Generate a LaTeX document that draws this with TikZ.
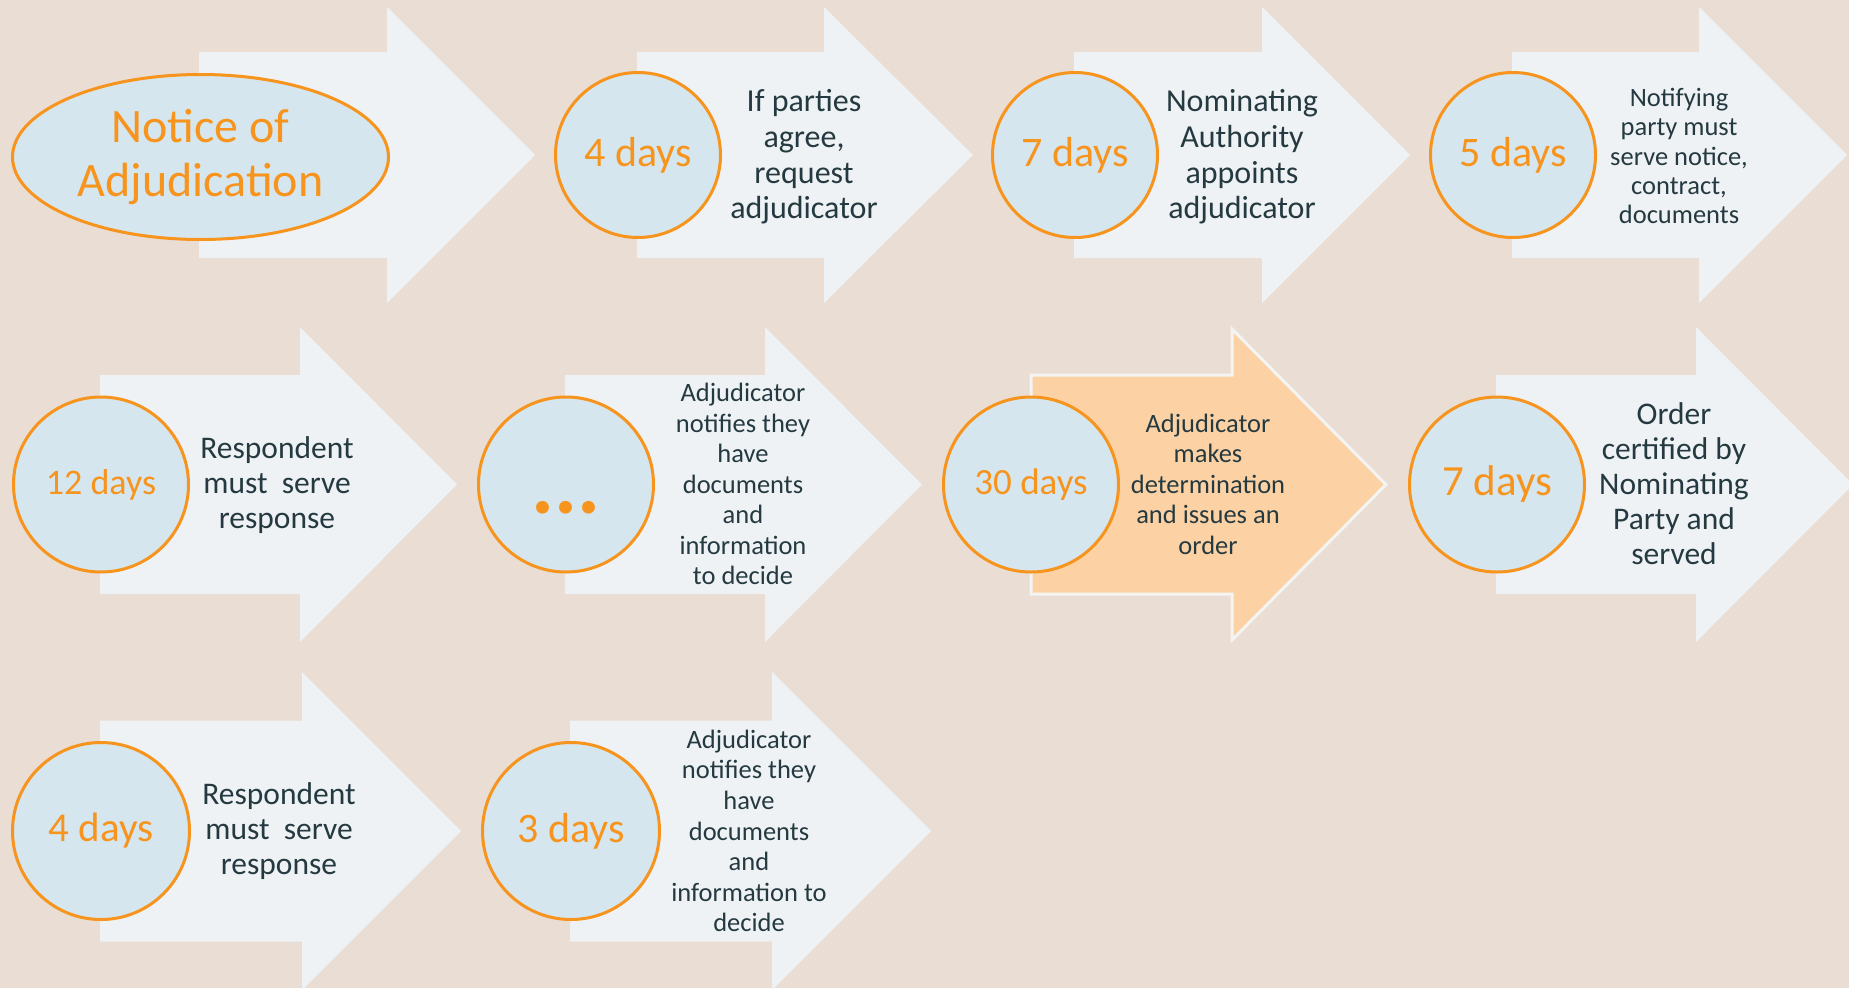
\documentclass[tikz,border=0pt]{standalone}
\usepackage{fontspec}
\setmainfont{Carlito}
\usetikzlibrary{shapes.geometric}
\definecolor{bg}{HTML}{E9DDD4}
\definecolor{arrowfill}{HTML}{EEF2F5}
\definecolor{circfill}{HTML}{D6E6EE}
\definecolor{orangeline}{HTML}{F7941D}
\definecolor{textdark}{HTML}{253A40}
\definecolor{hlfill}{HTML}{FCD2A5}
\definecolor{hlline}{HTML}{F4F4F2}
\tikzset{
  stagearrow/.style={fill=arrowfill, draw=none},
  hlarrow/.style={fill=hlfill, draw=hlline, line width=3pt, line join=miter},
  daycircle/.style={circle, fill=circfill, draw=orangeline, line width=3pt, inner sep=0pt, text=orangeline},
  desc/.style={align=center, text=textdark, inner sep=0pt},
}
\newcommand\drawflowarrow[7]{%
  \path[#1] (#2,#5-#6) -- (#3,#5-#6) -- (#3,#5-#7) -- (#4,#5) -- (#3,#5+#7) -- (#3,#5+#6) -- (#2,#5+#6) -- cycle;}
\begin{document}
\begin{tikzpicture}[x=1pt,y=-1pt]
\useasboundingbox (0,0) rectangle (1849,988);
\clip (0,0) rectangle (1849,988);
\fill[bg] (0,0) rectangle (1849,988);

% Row 1 arrows
\drawflowarrow{stagearrow}{199}{387}{535}{155}{103}{148}
\drawflowarrow{stagearrow}{637}{824}{973}{155}{103}{148}
\drawflowarrow{stagearrow}{1074}{1262}{1410}{155}{103}{148}
\drawflowarrow{stagearrow}{1512}{1699}{1847}{155}{103}{148}
% Row 2 arrows
\drawflowarrow{stagearrow}{100}{300}{457}{484.5}{109.5}{157.5}
\drawflowarrow{stagearrow}{565}{765}{922}{484.5}{109.5}{157.5}
\drawflowarrow{hlarrow}{1031}{1232}{1386}{484.5}{109.5}{155.5}
\drawflowarrow{stagearrow}{1496}{1696}{1853}{484.5}{109.5}{157.5}
% Row 3 arrows
\drawflowarrow{stagearrow}{100}{302}{461}{831}{110.5}{159}
\drawflowarrow{stagearrow}{570}{772}{931}{831}{110.5}{159}

% Row 1
\node[ellipse, fill=circfill, draw=orangeline, line width=3pt, inner sep=0pt,
      minimum width=376pt, minimum height=165pt, text=orangeline, align=center,
      font=\fontsize{48}{54}\selectfont] (notice) at (200.5,157) {Notice of\\Adjudication};
\node[daycircle, minimum size=165pt, font=\fontsize{42}{46}\selectfont] (c1) at (638,155) {4 days};
\node[desc, font=\fontsize{32}{35.7}\selectfont] (t1) at (804,157) {If parties\\agree,\\request\\adjudicator};
\node[daycircle, minimum size=165pt, font=\fontsize{42}{46}\selectfont] (c2) at (1075,155) {7 days};
\node[desc, font=\fontsize{32}{35.7}\selectfont] (t2) at (1242,157) {Nominating\\Authority\\appoints\\adjudicator};
\node[daycircle, minimum size=165pt, font=\fontsize{42}{46}\selectfont] (c3) at (1513,155) {5 days};
\node[desc, font=\fontsize{26.5}{29.3}\selectfont] (t3) at (1679,156) {Notifying\\party must\\serve notice,\\contract,\\documents};

% Row 2
\node[daycircle, minimum size=175pt, font=\fontsize{36}{40}\selectfont] (c4) at (101,484.5) {12 days};
\node[desc, font=\fontsize{31.5}{35}\selectfont] (t4) at (277,485) {Respondent\\must~~serve\\response};
\node[daycircle, minimum size=175pt] (c5) at (566,484.5) {};
\node[text=orangeline, inner sep=0pt, font=\fontsize{86}{86}\bfseries] (dots) at (566,508) {...};
\node[desc, font=\fontsize{26.5}{30.5}\selectfont] (t5) at (743,484) {Adjudicator\\notifies they\\have\\documents\\and\\information\\to decide};
\node[daycircle, minimum size=175pt, font=\fontsize{37}{41}\selectfont] (c6) at (1031,484.5) {30 days};
\node[desc, font=\fontsize{26.5}{30.5}\selectfont] (t6) at (1208,484) {Adjudicator\\makes\\determination\\and issues an\\order};
\node[daycircle, minimum size=175pt, font=\fontsize{43}{47}\selectfont] (c7) at (1497,484.5) {7 days};
\node[desc, font=\fontsize{31.5}{35}\selectfont] (t7) at (1674,484) {Order\\certified by\\Nominating\\Party and\\served};

% Row 3
\node[daycircle, minimum size=177pt, font=\fontsize{41}{45}\selectfont] (c8) at (101,831) {4 days};
\node[desc, font=\fontsize{31.5}{34.7}\selectfont] (t8) at (279,831) {Respondent\\must~~serve\\response};
\node[daycircle, minimum size=177pt, font=\fontsize{42}{46}\selectfont] (c9) at (571,831) {3 days};
\node[desc, font=\fontsize{26.5}{30.6}\selectfont] (t9) at (749,831) {Adjudicator\\notifies they\\have\\documents\\and\\information to\\decide};
\end{tikzpicture}
\end{document}
